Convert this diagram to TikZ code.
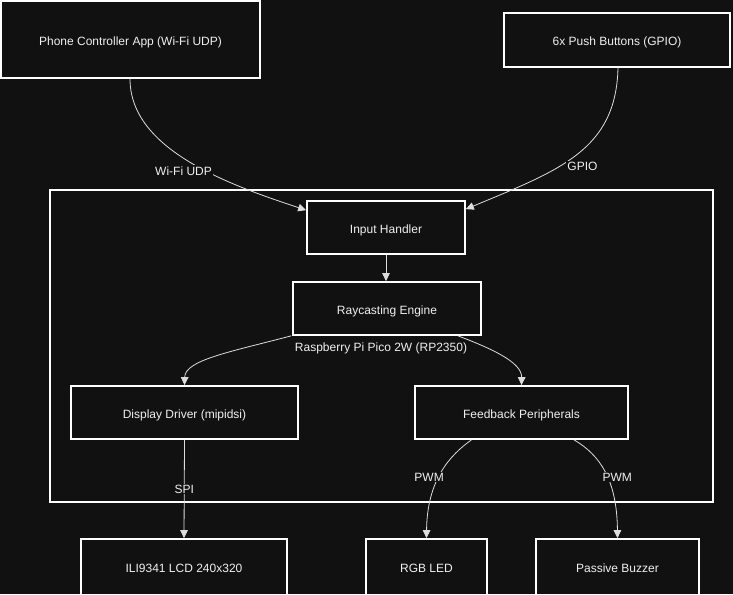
\documentclass[tikz,border=0pt]{standalone}
\usepackage{fontspec}
\setmainfont{Liberation Sans}
\usetikzlibrary{arrows.meta}
\definecolor{bg}{HTML}{111111}
\definecolor{fg}{HTML}{F0F0F0}
\definecolor{ln}{HTML}{DDDDDD}
\begin{document}
\begin{tikzpicture}[x=1pt,y=-1pt,
  box/.style={draw=white, line width=1.7pt, fill=bg, text=fg, inner sep=0pt,
    text height=12pt, text depth=0.4pt,
    font=\fontsize{12}{14}\selectfont},
  group/.style={draw=white, line width=1.7pt, inner sep=0pt},
  conn/.style={draw=ln, line width=0.8pt, -{Triangle[length=8pt,width=7.5pt]}},
  lbl/.style={text=fg, fill=bg, inner sep=1pt, font=\fontsize{12}{14}\selectfont}]
\fill[bg] (0,0) rectangle (733,594);
\useasboundingbox (0,0) rectangle (733,594);
\begin{scope}
\clip (0,0) rectangle (733,594);
% group
\node[group, minimum width=663pt, minimum height=312pt] (pico) at (381.5,346) {};
\node[lbl] (picolbl) at (381,348) {Raspberry Pi Pico 2W (RP2350)};
% nodes
\node[box, minimum width=259pt, minimum height=77pt] (phone) at (130.5,39.5) {Phone Controller App (Wi-Fi UDP)};
\node[box, minimum width=226pt, minimum height=54pt] (btn) at (617,40) {6x Push Buttons (GPIO)};
\node[box, minimum width=158pt, minimum height=53pt] (input) at (386,227.5) {Input Handler};
\node[box, minimum width=188pt, minimum height=53pt] (ray) at (387,308.5) {Raycasting Engine};
\node[box, minimum width=227pt, minimum height=53pt] (disp) at (184.5,412.5) {Display Driver (mipidsi)};
\node[box, minimum width=213pt, minimum height=53pt] (feed) at (521.5,412.5) {Feedback Peripherals};
\node[box, minimum width=206pt, minimum height=56pt] (lcd) at (184,567) {ILI9341 LCD 240x320};
\node[box, minimum width=121pt, minimum height=56pt] (rgb) at (426.5,567) {RGB LED};
\node[box, minimum width=163pt, minimum height=56pt] (buz) at (617.5,567) {Passive Buzzer};
% connectors
\draw[conn] ([xshift=-0.5pt]phone.south) .. controls (130,150) and (230,185) .. ([yshift=-10pt]input.north west)
  node[lbl, pos=0.5, xshift=-6pt, yshift=-9pt] (l1) {Wi-Fi UDP};
\draw[conn] ([xshift=1pt]btn.south) .. controls (616,150) and (560,170) .. ([yshift=-9pt]input.north east)
  node[lbl, pos=0.5, xshift=6pt, yshift=-12pt] (l2) {GPIO};
\draw[conn] (input.south) -- ([xshift=-1pt]ray.north);
\draw[conn] ([xshift=-1pt]ray.south west) .. controls (230,352) and (185,360) .. (disp.north);
\draw[conn] ([xshift=71pt]ray.south) .. controls (490,348) and (522,362) .. (feed.north);
\draw[conn] (disp.south) -- (lcd.north) node[lbl, pos=0.5] (l3) {SPI};
\draw[conn] ([xshift=-50pt]feed.south) .. controls (450,455) and (427,480) .. (rgb.north)
  node[lbl, pos=0.5, xshift=-12pt, yshift=-4pt] (l4) {PWM};
\draw[conn] ([xshift=52.5pt]feed.south) .. controls (600,455) and (617,480) .. (buz.north)
  node[lbl, pos=0.5, xshift=12pt, yshift=-4pt] (l5) {PWM};
\end{scope}
\end{tikzpicture}
\end{document}
